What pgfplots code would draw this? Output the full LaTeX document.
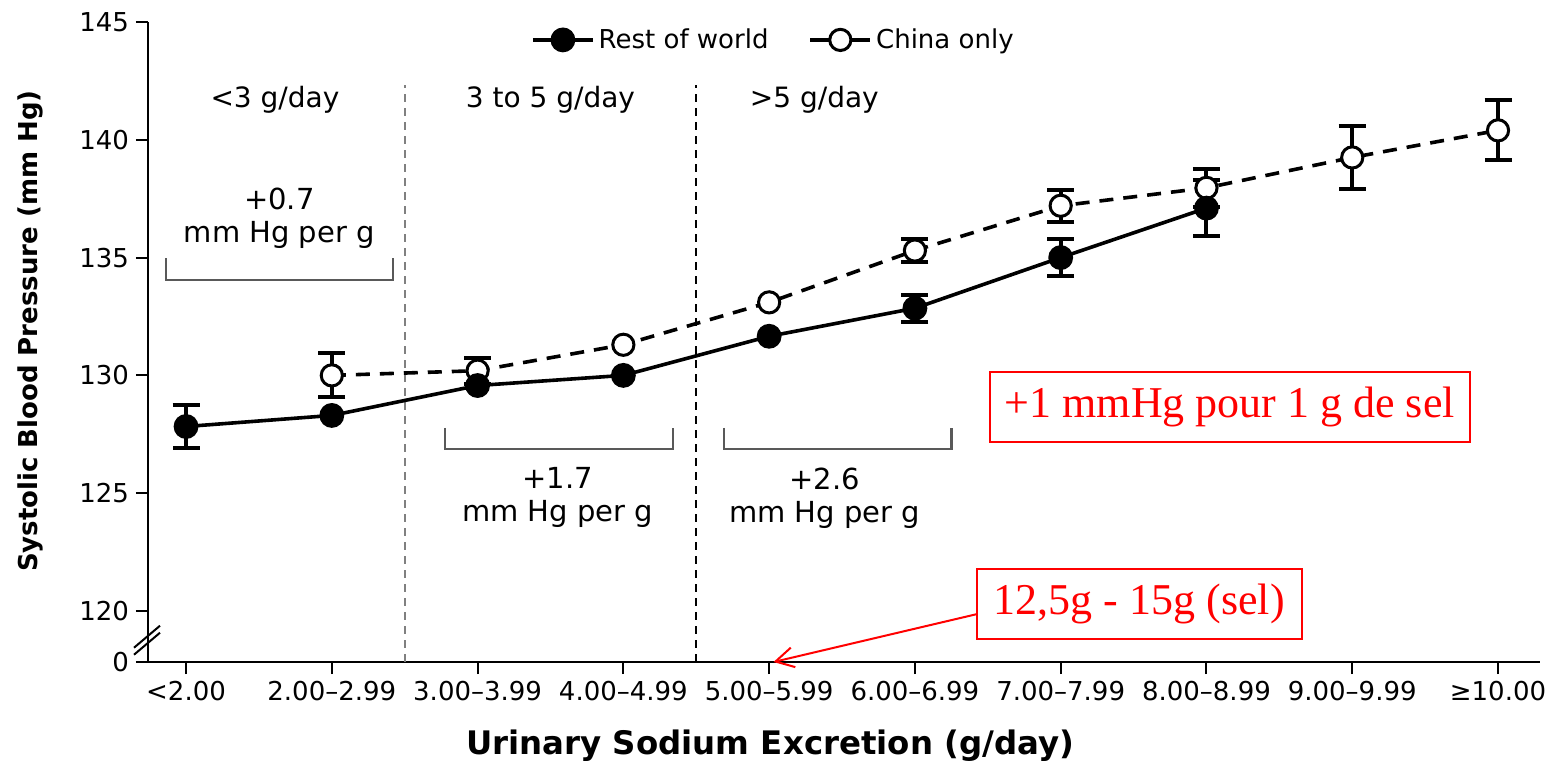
\documentclass[border=0pt]{standalone}
\usepackage{pgfplots}
\pgfplotsset{compat=1.18}
\usepackage{pgfplotstable}
\usetikzlibrary{arrows.meta}
\usepackage{fontspec}
\setmainfont{DejaVu Sans}
\newfontfamily\timesfont{Liberation Serif}

\pgfplotstableread{
x y
0 127.83
1 128.30
2 129.57
3 130.00
4 131.66
5 132.85
6 135.00
7 137.10
}\rowdata

\pgfplotstableread{
x y e
0 127.83 0.93
5 132.85 0.57
6 135.00 0.80
7 137.10 1.20
}\rowerr

\pgfplotstableread{
x y
1 130.00
2 130.20
3 131.30
4 133.10
5 135.30
6 137.20
7 137.96
8 139.25
9 140.40
}\chinadata

\pgfplotstableread{
x y e
1 130.00 0.93
2 130.20 0.55
5 135.30 0.50
6 137.20 0.68
7 137.96 0.80
8 139.25 1.32
9 140.40 1.27
}\chinaerr

\begin{document}
\begin{tikzpicture}
\begin{axis}[
  name=ax,
  scale only axis,
  width=696pt, height=320pt,
  xmin=-0.261, xmax=9.288,
  ymin=117.835, ymax=145,
  axis x line=bottom, axis y line=left,
  axis line style={-, line width=1.2pt, black},
  tick align=outside,
  major tick length=6pt,
  tick style={black, line width=1pt},
  xtick={0,...,9},
  xticklabels={<2.00, 2.00–2.99, 3.00–3.99, 4.00–4.99, 5.00–5.99, 6.00–6.99, 7.00–7.99, 8.00–8.99, 9.00–9.99, ≥10.00},
  ytick={117.835,120,125,130,135,140,145},
  yticklabels={0,120,125,130,135,140,145},
  ticklabel style={font=\fontsize{13}{15}\selectfont},
  /pgf/number format/assume math mode=true,
  clip=false,
  legend style={at={(0.45,0.972)}, anchor=center, draw=none, fill=none,
    font=\fontsize{13}{15}\selectfont, legend columns=2,
    /tikz/every even column/.append style={column sep=18pt}},
  legend image code/.code={\draw[mark repeat=2,mark phase=2] plot coordinates {(0pt,0pt)(15pt,0pt)(30pt,0pt)};},
]
\addlegendimage{black, line width=1.8pt, mark=*, mark size=5.3pt}
\addlegendentry{Rest of world}
\addlegendimage{black, line width=1.8pt, mark=*, mark size=5.3pt, mark options={fill=white, line width=1.5pt}}
\addlegendentry{China only}

% region separators
\draw[gray, line width=1pt, dash pattern=on 4pt off 3pt] (axis cs:1.5,117.835) -- (axis cs:1.5,142.33);
\draw[black, line width=1pt, dash pattern=on 4pt off 3pt] (axis cs:3.5,117.835) -- (axis cs:3.5,142.33);

% China
\addplot[only marks, mark=none, forget plot,
  error bars/.cd, y dir=both, y explicit,
  error bar style={line width=2pt, black, solid},
  error mark options={rotate=90, line width=2pt, mark size=6.75pt, black, solid}]
  table[x=x, y=y, y error=e] {\chinaerr};
\addplot[black, line width=1.8pt, dash pattern=on 7pt off 5pt, mark=*, mark size=5.3pt,
  mark options={solid, fill=white, line width=1.5pt}, forget plot]
  table[x=x, y=y] {\chinadata};
% Rest of world
\addplot[only marks, mark=none, forget plot,
  error bars/.cd, y dir=both, y explicit,
  error bar style={line width=2pt, black, solid},
  error mark options={rotate=90, line width=2pt, mark size=6.75pt, black, solid}]
  table[x=x, y=y, y error=e] {\rowerr};
\addplot[black, line width=1.8pt, mark=*, mark size=5.3pt, forget plot]
  table[x=x, y=y] {\rowdata};

% region labels
\node[font=\fontsize{14}{16}\selectfont] at (axis cs:0.61,141.69) {<3 g/day};
\node[font=\fontsize{14}{16}\selectfont] at (axis cs:2.50,141.69) {3 to 5 g/day};
\node[font=\fontsize{14}{16}\selectfont] at (axis cs:4.31,141.69) {>5 g/day};

% brackets
\draw[black!65, line width=1.2pt] (axis cs:-0.137,134.98) -- (axis cs:-0.137,134.05) -- (axis cs:1.418,134.05) -- (axis cs:1.418,134.98);
\draw[black!65, line width=1.2pt] (axis cs:1.776,127.77) -- (axis cs:1.776,126.88) -- (axis cs:3.34,126.88) -- (axis cs:3.34,127.77);
\draw[black!65, line width=1.2pt] (axis cs:3.69,127.77) -- (axis cs:3.69,126.88) -- (axis cs:5.25,126.88) -- (axis cs:5.25,127.77);

\node[align=center, font=\fontsize{14.5}{16.5}\selectfont] at (axis cs:0.64,136.65) {+0.7\\mm Hg per g};
\node[align=center, font=\fontsize{14.5}{16.5}\selectfont] at (axis cs:2.55,124.8) {+1.7\\mm Hg per g};
\node[align=center, font=\fontsize{14.5}{16.5}\selectfont] at (axis cs:4.38,124.8) {+2.6\\mm Hg per g};

% red annotations
\node[draw=red, line width=1pt, text=red, font=\timesfont\fontsize{22}{25}\selectfont,
  minimum width=240pt, minimum height=35pt, inner sep=0pt] at (axis cs:7.16,128.64) {+1 mmHg pour 1 g de sel};
\node[draw=red, line width=1pt, text=red, font=\timesfont\fontsize{22}{25}\selectfont,
  minimum width=162.5pt, minimum height=35pt, inner sep=0pt] at (axis cs:6.54,120.28) {12,5g - 15g (sel)};
\draw[red, line width=1pt, -{Straight Barb[length=9pt, width=10pt]}] (axis cs:5.42,119.86) -- (axis cs:4.03,117.835);

% axis break
\draw[black, line width=1pt] ([shift={(-7pt,-6pt)}]axis cs:-0.261,118.95) -- ++(13pt,11pt);
\draw[black, line width=1pt] ([shift={(-7pt,-9.5pt)}]axis cs:-0.261,118.95) -- ++(13pt,11pt);

% axis titles
\node[font=\bfseries\fontsize{13}{15}\selectfont, rotate=90] at ([xshift=-59pt]rel axis cs:0,0.517) {Systolic Blood Pressure (mm Hg)};
\node[font=\bfseries\fontsize{16.2}{18}\selectfont] at ([yshift=-42pt]rel axis cs:0.447,0) {Urinary Sodium Excretion (g/day)};

\coordinate (bl) at (rel axis cs:0,0);
\coordinate (tr) at (rel axis cs:1,1);
\end{axis}
\pgfresetboundingbox
\path[use as bounding box] ([shift={(-74pt,-54pt)}]bl) rectangle ([shift={(8.5pt,11pt)}]tr);
\end{tikzpicture}
\end{document}
